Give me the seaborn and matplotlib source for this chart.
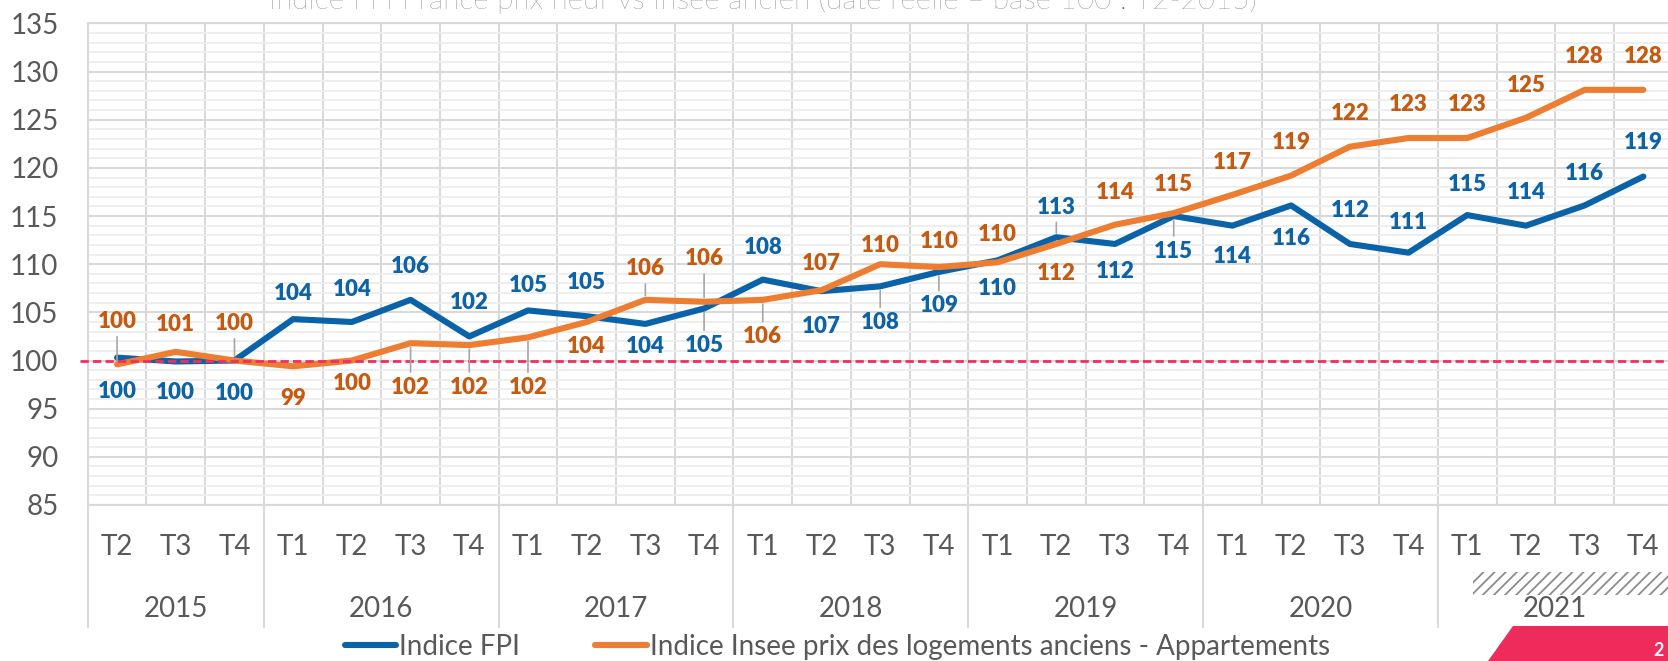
import numpy as np
import pandas as pd
import matplotlib
matplotlib.use('Agg')
import matplotlib.pyplot as plt
import matplotlib.transforms as mtransforms
from matplotlib.patches import Rectangle, Polygon
import seaborn as sns

# data
years = ['2015', '2016', '2017', '2018', '2019', '2020', '2021']
quarters_per_year = [3, 4, 4, 4, 4, 4, 4]
quarters = ['T2', 'T3', 'T4'] + ['T1', 'T2', 'T3', 'T4'] * 6

fpi = [100.3, 99.9, 100.0, 104.3, 104.0, 106.3, 102.5, 105.2, 104.6, 103.8, 105.4,
       108.4, 107.2, 107.7, 109.2, 110.4, 112.8, 112.1, 115.0, 114.0, 116.1, 112.1,
       111.2, 115.1, 114.0, 116.1, 119.1]
insee = [99.6, 100.9, 100.0, 99.4, 100.0, 101.8, 101.6, 102.4, 104.0, 106.3, 106.1,
         106.3, 107.3, 110.0, 109.7, 110.2, 112.1, 114.1, 115.3, 117.2, 119.2, 122.2,
         123.1, 123.1, 125.2, 128.1, 128.1]

series_names = ['Indice FPI', 'Indice Insee prix des logements anciens - Appartements']
title = 'Indice FPI France prix neuf vs Insee ancien (date réelle – base 100 : T2-2015)'

# label placement: vertical offset in pixels (+ = below the point), leader lines
fpi_label_dy = [34, 31, 33, -26, -32, -33, -34, -25, -34, 23, 37, -32, 35, 36, 34, 28,
                -30, 28, 35, 31, 33, -33, -30, -31, -33, -32, -34]
insee_label_dy = [-43, -27, -37, 32, 23, 44, 42, 50, 25, -31, -43, 37, -27, -19, -26, -28,
                  30, -32, -29, -32, -33, -33, -34, -34, -32, -33, -33]
fpi_leaders = [10, 13, 14, 16, 18]
insee_leaders = [0, 2, 5, 6, 7, 9, 10, 11]

BLUE = '#0A63A9'
BLUE_TXT = '#0E63A6'
ORANGE = '#ED7D31'
ORANGE_TXT = '#C55A11'
GREY_TXT = '#595959'
GRID = '#D9D9D9'

sns.set_theme(style='white')
plt.rcParams['font.family'] = ['Lato', 'DejaVu Sans']
plt.rcParams['hatch.linewidth'] = 1.3

n = len(quarters)
df = pd.DataFrame({
    'x': np.tile(np.arange(n), 2),
    'valeur': fpi + insee,
    'serie': np.repeat(series_names, n),
})

fig = plt.figure(figsize=(16.68, 6.61), dpi=100)
ax = fig.add_axes([87.7 / 1668, 1 - 505 / 661, 1585 / 1668, 481.6 / 661])

sns.lineplot(data=df, x='x', y='valeur', hue='serie', palette=[BLUE, ORANGE],
             linewidth=4.4, solid_capstyle='round', solid_joinstyle='round',
             ax=ax, zorder=3)

ax.set_xlim(-0.5, n - 0.5)
ax.set_ylim(85, 135)
ax.set_xlabel('')
ax.set_ylabel('')

ax.set_yticks(range(85, 136, 5))
ax.set_yticks(range(85, 136), minor=True)
ax.set_xticks(range(n))
ax.set_xticklabels(quarters)
ax.set_xticks(np.arange(-0.5, n, 1), minor=True)
ax.grid(axis='y', which='major', color=GRID, lw=1.5, zorder=0)
ax.grid(axis='y', which='minor', color='#EEEEEE', lw=1.4, zorder=0)
ax.grid(axis='x', which='minor', color=GRID, lw=1.5, zorder=0)
ax.grid(axis='x', which='major', visible=False)
ax.set_axisbelow(True)
ax.tick_params(which='both', length=0)
ax.tick_params(axis='y', pad=21, labelsize=20, labelcolor=GREY_TXT)
ax.tick_params(axis='x', pad=21, labelsize=20, labelcolor=GREY_TXT)
for side in ['left', 'bottom', 'top']:
    ax.spines[side].set_color(GRID)
    ax.spines[side].set_linewidth(1.5)
ax.spines['right'].set_visible(False)

# base 100 line
ax.axhline(100, xmin=-0.005, xmax=1, color='#EE3060', lw=2,
           ls=(0, (3, 1.5)), clip_on=False, zorder=4)

# data labels
for vals, dys, leaders, col in [(fpi, fpi_label_dy, fpi_leaders, BLUE_TXT),
                                (insee, insee_label_dy, insee_leaders, ORANGE_TXT)]:
    for i, v in enumerate(vals):
        arrow = None
        if i in leaders:
            arrow = dict(arrowstyle='-', color='#A6A6A6', lw=1.2, shrinkA=1, shrinkB=3)
        ax.annotate(f'{v:.0f}', xy=(i, v), xytext=(0, -dys[i]), textcoords='offset pixels',
                    ha='center', va='center', fontsize=16, fontweight='heavy',
                    color=col, zorder=6, arrowprops=arrow)

# year level of the category axis
blend = mtransforms.blended_transform_factory(ax.transData, ax.transAxes)
starts = np.cumsum([0] + quarters_per_year)
for k, year in enumerate(years):
    mid = starts[k] + quarters_per_year[k] / 2 - 0.5
    ax.text(mid, -0.216, year, transform=blend, ha='center', va='center',
            fontsize=20, color=GREY_TXT)
for b in starts:
    ax.plot([b - 0.5, b - 0.5], [0, -0.253], transform=blend, color=GRID, lw=1.5,
            clip_on=False)

# hatched band under 2021
ax.add_patch(Rectangle((starts[-2] + 0.1, -0.187), 3.6, 0.0485, transform=blend,
                       facecolor='none', edgecolor='#8C8C8C', hatch='///', lw=0,
                       clip_on=False))

sns.move_legend(ax, 'center', bbox_to_anchor=(0.473, -0.295), ncol=2, frameon=False,
                title=None, fontsize=20, handlelength=1.85, handletextpad=0.12,
                columnspacing=2.7, labelcolor=GREY_TXT)

fig.text(763 / 1668, 1 - 8.5 / 661, title, ha='center', va='baseline', fontsize=21.4,
         color=GREY_TXT, fontweight='light')

# page corner
fig.patches.append(Polygon([(1488 / 1668, 0), (1513 / 1668, 35 / 661), (1, 35 / 661), (1, 0)],
                           closed=True, transform=fig.transFigure, facecolor='#EE2B5B',
                           edgecolor='none'))
fig.text(1653 / 1668, 10 / 661, '2', ha='left', va='center', fontsize=13,
         fontweight='bold', color='white')

fig.savefig('out.png', dpi=100)
